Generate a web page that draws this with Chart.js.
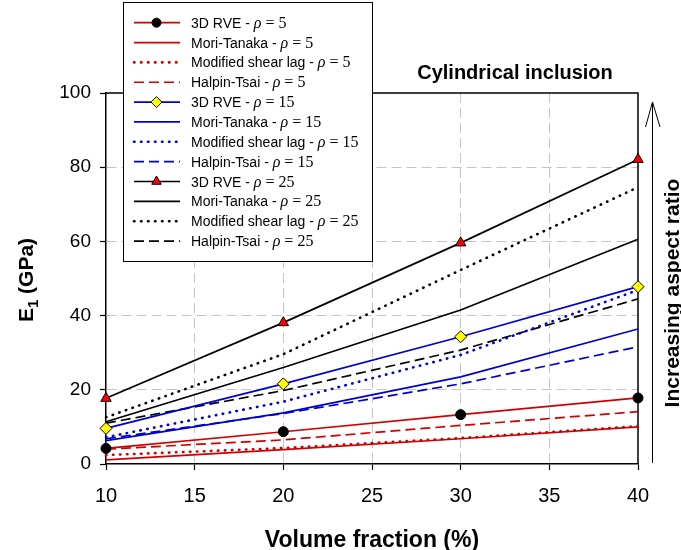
<!DOCTYPE html>
<html>
<head>
<meta charset="utf-8">
<script src="https://cdn.jsdelivr.net/npm/chart.js@4"></script>
<style>
  html, body { margin: 0; padding: 0; background: #fff; }
  #wrap { width: 681px; height: 550px; }
</style>
</head>
<body>
<div id="wrap"><canvas id="chart" width="681" height="550"></canvas></div>
<script>
// volume fraction (%) on x
const volumeFraction = [10, 20, 30, 40];
const xTicks = [10, 15, 20, 25, 30, 35, 40];
const yTicks = [0, 20, 40, 60, 80, 100];

// E1 (GPa), aspect ratio 5
const rve5 = [4.2, 8.7, 13.3, 17.8];
const mt5 = [1.1, 3.9, 6.8, 10.0];
const msl5 = [2.4, 4.3, 7.0, 10.2];
const ht5 = [4.0, 6.5, 10.4, 14.1];
// aspect ratio 15
const rve15 = [9.6, 21.6, 34.3, 47.8];
const mt15 = [6.3, 13.8, 23.5, 36.4];
const msl15 = [7.2, 16.8, 29.4, 46.9];
const ht15 = [6.8, 13.6, 21.6, 31.6];
// aspect ratio 25
const rve25 = [17.7, 38.1, 59.6, 82.1];
const mt25 = [11.4, 26.0, 41.5, 60.6];
const msl25 = [12.6, 29.6, 52.3, 74.6];
const ht25 = [11.0, 19.8, 30.7, 44.5];

const modelNames = ['3D RVE', 'Mori-Tanaka', 'Modified shear lag', 'Halpin-Tsai'];
const aspectRatios = [5, 15, 25];

const RED = '#d00000', BLUE = '#0000d0', BLACK = '#000000';
const groups = [
  { rho: aspectRatios[0], color: RED, values: [rve5, mt5, msl5, ht5], marker: { style: 'circle', fill: '#000', r: 5 } },
  { rho: aspectRatios[1], color: BLUE, values: [rve15, mt15, msl15, ht15], marker: { style: 'rectRot', fill: '#ffff00', r: 6 } },
  { rho: aspectRatios[2], color: BLACK, values: [rve25, mt25, msl25, ht25], marker: { style: 'triangle', fill: '#ff0000', r: 6 } }
];

const DOTS = [0.5, 6.5];
const DASHES = [10, 5];

const datasets = [];
groups.forEach(g => {
  g.values.forEach((vals, i) => {
    const ds = {
      label: modelNames[i] + ' - ρ = ' + g.rho,
      model: i,
      rho: g.rho,
      data: vals.map((v, k) => ({ x: volumeFraction[k], y: v })),
      borderColor: g.color,
      backgroundColor: g.color,
      borderWidth: i === 2 ? 2.6 : 1.7,
      borderDash: i === 2 ? DOTS : (i === 3 ? DASHES : []),
      borderCapStyle: i === 2 ? 'round' : 'butt',
      pointRadius: 0,
      tension: 0,
      clip: false
    };
    if (i === 0) {
      ds.pointStyle = g.marker.style;
      ds.pointRadius = g.marker.r;
      ds.pointBackgroundColor = g.marker.fill;
      ds.pointBorderColor = '#000';
      ds.pointBorderWidth = 1;
      ds.marker = g.marker;
    }
    datasets.push(ds);
  });
});

const edgeGrid = (min, max) => ctx => {
  const v = ctx.tick && ctx.tick.value;
  return (v === min || v === max) ? 'rgba(0,0,0,0)' : '#c4c4c4';
};

const overlay = {
  id: 'overlay',
  beforeDatasetsDraw(chart) {
    const { ctx, chartArea: a } = chart;
    ctx.save();
    ctx.strokeStyle = '#000';
    ctx.lineWidth = 1.5;
    ctx.beginPath();
    ctx.moveTo(a.left, a.top);
    ctx.lineTo(a.right, a.top);
    ctx.lineTo(a.right, a.bottom);
    ctx.stroke();
    ctx.restore();
  },
  afterDraw(chart) {
    const { ctx, chartArea: a } = chart;
    ctx.save();
    ctx.fillStyle = '#000';

    // x title
    ctx.font = 'bold 23px "Liberation Sans", Arial, sans-serif';
    ctx.textAlign = 'center';
    ctx.textBaseline = 'alphabetic';
    ctx.fillText('Volume fraction (%)', (a.left + a.right) / 2, 547);

    // y title with subscript
    ctx.save();
    ctx.translate(33, 280);
    ctx.rotate(-Math.PI / 2);
    const big = 'bold 21px "Liberation Sans", Arial, sans-serif';
    const sub = 'bold 15px "Liberation Sans", Arial, sans-serif';
    ctx.font = big; const wE = ctx.measureText('E').width; const wR = ctx.measureText(' (GPa)').width;
    ctx.font = sub; const w1 = ctx.measureText('1').width;
    let sx = -(wE + w1 + wR) / 2;
    ctx.textAlign = 'left';
    ctx.font = big; ctx.fillText('E', sx, 0); sx += wE;
    ctx.font = sub; ctx.fillText('1', sx, 5); sx += w1;
    ctx.font = big; ctx.fillText(' (GPa)', sx, 0);
    ctx.restore();

    // panel title
    ctx.font = 'bold 20px "Liberation Sans", Arial, sans-serif';
    ctx.textAlign = 'center';
    ctx.fillText('Cylindrical inclusion', 515, 79);

    // arrow
    ctx.strokeStyle = '#000';
    ctx.lineWidth = 1;
    ctx.beginPath();
    ctx.moveTo(652.5, 463);
    ctx.lineTo(652.5, 102);
    ctx.moveTo(645.5, 127);
    ctx.lineTo(652.5, 102);
    ctx.lineTo(660, 127);
    ctx.stroke();

    ctx.save();
    ctx.translate(679, 293);
    ctx.rotate(-Math.PI / 2);
    ctx.font = 'bold 21px "Liberation Sans", Arial, sans-serif';
    ctx.textAlign = 'center';
    ctx.fillText('Increasing aspect ratio', 0, 0);
    ctx.restore();

    // legend
    const lx = 123, ly = 2, lw = 249, lh = 259;
    ctx.fillStyle = '#fff';
    ctx.fillRect(lx, ly, lw, lh);
    ctx.strokeStyle = '#000';
    ctx.lineWidth = 1;
    ctx.strokeRect(lx + 0.5, ly + 0.5, lw, lh);

    chart.data.datasets.forEach((ds, i) => {
      const y = 22.7 + i * 19.85;
      ctx.save();
      ctx.strokeStyle = ds.borderColor;
      ctx.lineWidth = ds.borderWidth;
      ctx.setLineDash(ds.borderDash);
      ctx.lineCap = ds.borderCapStyle;
      ctx.beginPath();
      ctx.moveTo(134, y);
      ctx.lineTo(180, y);
      ctx.stroke();
      ctx.restore();
      if (ds.marker) {
        ctx.save();
        ctx.fillStyle = ds.marker.fill;
        ctx.strokeStyle = '#000';
        ctx.lineWidth = 1;
        Chart.helpers.drawPoint(ctx, { pointStyle: ds.marker.style, radius: ds.marker.r - 0.5, rotation: 0, borderWidth: 1 }, 156.5, y);
        ctx.restore();
      }
      ctx.fillStyle = '#000';
      ctx.textAlign = 'left';
      ctx.textBaseline = 'alphabetic';
      let tx = 191;
      const base = y + 5;
      ctx.font = '14px "Liberation Sans", Arial, sans-serif';
      const head = modelNames[ds.model] + ' - ';
      ctx.fillText(head, tx, base); tx += ctx.measureText(head).width;
      ctx.font = 'italic 16px "Liberation Serif", "Times New Roman", serif';
      ctx.fillText('ρ', tx, base); tx += ctx.measureText('ρ').width;
      ctx.font = '16px "Liberation Serif", "Times New Roman", serif';
      ctx.fillText(' = ' + ds.rho, tx, base);
    });
    ctx.restore();
  }
};

Chart.defaults.font.family = '"Liberation Sans", Arial, sans-serif';
Chart.defaults.color = '#000';

new Chart(document.getElementById('chart'), {
  type: 'line',
  data: { datasets },
  options: {
    responsive: false,
    animation: false,
    layout: { padding: { left: 0, top: 93, right: 43, bottom: 0 } },
    plugins: { legend: { display: false }, tooltip: { enabled: false } },
    scales: {
      x: {
        type: 'linear',
        min: 10, max: 40,
        afterFit: s => { s.height = 86; },
        afterBuildTicks: s => { s.ticks = xTicks.map(v => ({ value: v })); },
        ticks: { font: { size: 20 }, color: '#000', padding: 14, maxRotation: 0 },
        grid: { color: edgeGrid(10, 40), lineWidth: 1, tickColor: '#000', tickLength: 6, tickWidth: 1.2 },
        border: { color: '#000', width: 1.5, dash: [10, 5] }
      },
      y: {
        min: 0, max: 100,
        afterFit: s => { s.width = 106; },
        afterBuildTicks: s => { s.ticks = yTicks.map(v => ({ value: v })); },
        ticks: { font: { size: 19 }, color: '#000', padding: 9 },
        grid: { color: edgeGrid(0, 100), lineWidth: 1, tickColor: '#000', tickLength: 6, tickWidth: 1.2 },
        border: { color: '#000', width: 1.5, dash: [10, 5] }
      }
    }
  },
  plugins: [overlay]
});
</script>
</body>
</html>
